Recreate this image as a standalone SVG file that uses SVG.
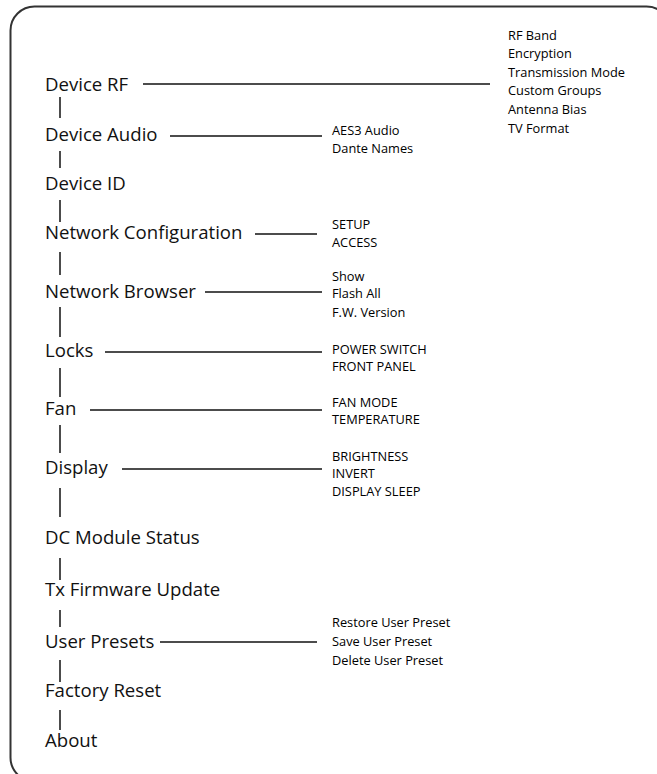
<svg xmlns="http://www.w3.org/2000/svg" width="657" height="774" viewBox="0 0 657 774">
<style>
.m{font-family:"Open Sans","Noto Sans",sans-serif;font-size:18.6px;fill:#111}
.s{font-family:"Open Sans","Noto Sans",sans-serif;font-size:12.8px;fill:#000}
.c line{stroke:#111;stroke-width:1.5}
</style>
<rect x="10.5" y="6.5" width="660" height="775" rx="24" fill="#fff" stroke="#333" stroke-width="2"/>
<g class="c" id="connectors">
<line x1="60" y1="97" x2="60" y2="118"/>
<line x1="60" y1="151" x2="60" y2="168"/>
<line x1="60" y1="200" x2="60" y2="222"/>
<line x1="60" y1="252" x2="60" y2="275"/>
<line x1="60" y1="307" x2="60" y2="337"/>
<line x1="60" y1="368" x2="60" y2="397"/>
<line x1="60" y1="425" x2="60" y2="453"/>
<line x1="60" y1="488" x2="60" y2="517"/>
<line x1="60" y1="558" x2="60" y2="580"/>
<line x1="60" y1="610" x2="60" y2="627"/>
<line x1="60" y1="660" x2="60" y2="682"/>
<line x1="60" y1="710" x2="60" y2="730"/>
<line x1="143" y1="84" x2="490" y2="84"/>
<line x1="170" y1="136" x2="322" y2="136"/>
<line x1="255" y1="234" x2="317" y2="234"/>
<line x1="205" y1="292" x2="322" y2="292"/>
<line x1="105" y1="352" x2="322" y2="352"/>
<line x1="90" y1="410" x2="322" y2="410"/>
<line x1="122" y1="469" x2="322" y2="469"/>
<line x1="160" y1="642" x2="317" y2="642"/>
</g>
<g id="device-rf"><text class="m" x="45" y="91">Device RF</text>
<text class="s" x="508" y="40">RF Band</text><text class="s" x="508" y="58">Encryption</text><text class="s" x="508" y="77">Transmission Mode</text><text class="s" x="508" y="95">Custom Groups</text><text class="s" x="508" y="114">Antenna Bias</text><text class="s" x="508" y="133">TV Format</text></g>
<g id="device-audio"><text class="m" x="45" y="141">Device Audio</text>
<text class="s" x="332" y="135">AES3 Audio</text><text class="s" x="332" y="153">Dante Names</text></g>
<g id="device-id"><text class="m" x="45" y="190">Device ID</text></g>
<g id="network-config"><text class="m" x="45" y="239">Network Configuration</text>
<text class="s" x="332" y="229">SETUP</text><text class="s" x="332" y="247">ACCESS</text></g>
<g id="network-browser"><text class="m" x="45" y="298">Network Browser</text>
<text class="s" x="332" y="280.5">Show</text><text class="s" x="332" y="298">Flash All</text><text class="s" x="332" y="317">F.W. Version</text></g>
<g id="locks"><text class="m" x="45" y="357">Locks</text>
<text class="s" x="332" y="353.5">POWER SWITCH</text><text class="s" x="332" y="371">FRONT PANEL</text></g>
<g id="fan"><text class="m" x="45" y="415">Fan</text>
<text class="s" x="332" y="406.5">FAN MODE</text><text class="s" x="332" y="424">TEMPERATURE</text></g>
<g id="display"><text class="m" x="45" y="474">Display</text>
<text class="s" x="332" y="460.5">BRIGHTNESS</text><text class="s" x="332" y="478">INVERT</text><text class="s" x="332" y="495.5">DISPLAY SLEEP</text></g>
<g id="dc-module"><text class="m" x="45" y="544">DC Module Status</text></g>
<g id="tx-firmware"><text class="m" x="45" y="596">Tx Firmware Update</text></g>
<g id="user-presets"><text class="m" x="45" y="648">User Presets</text>
<text class="s" x="332" y="627">Restore  User Preset</text><text class="s" x="332" y="646">Save User Preset</text><text class="s" x="332" y="665">Delete User Preset</text></g>
<g id="factory-reset"><text class="m" x="45" y="697">Factory Reset</text></g>
<g id="about"><text class="m" x="45" y="747">About</text></g>
</svg>
